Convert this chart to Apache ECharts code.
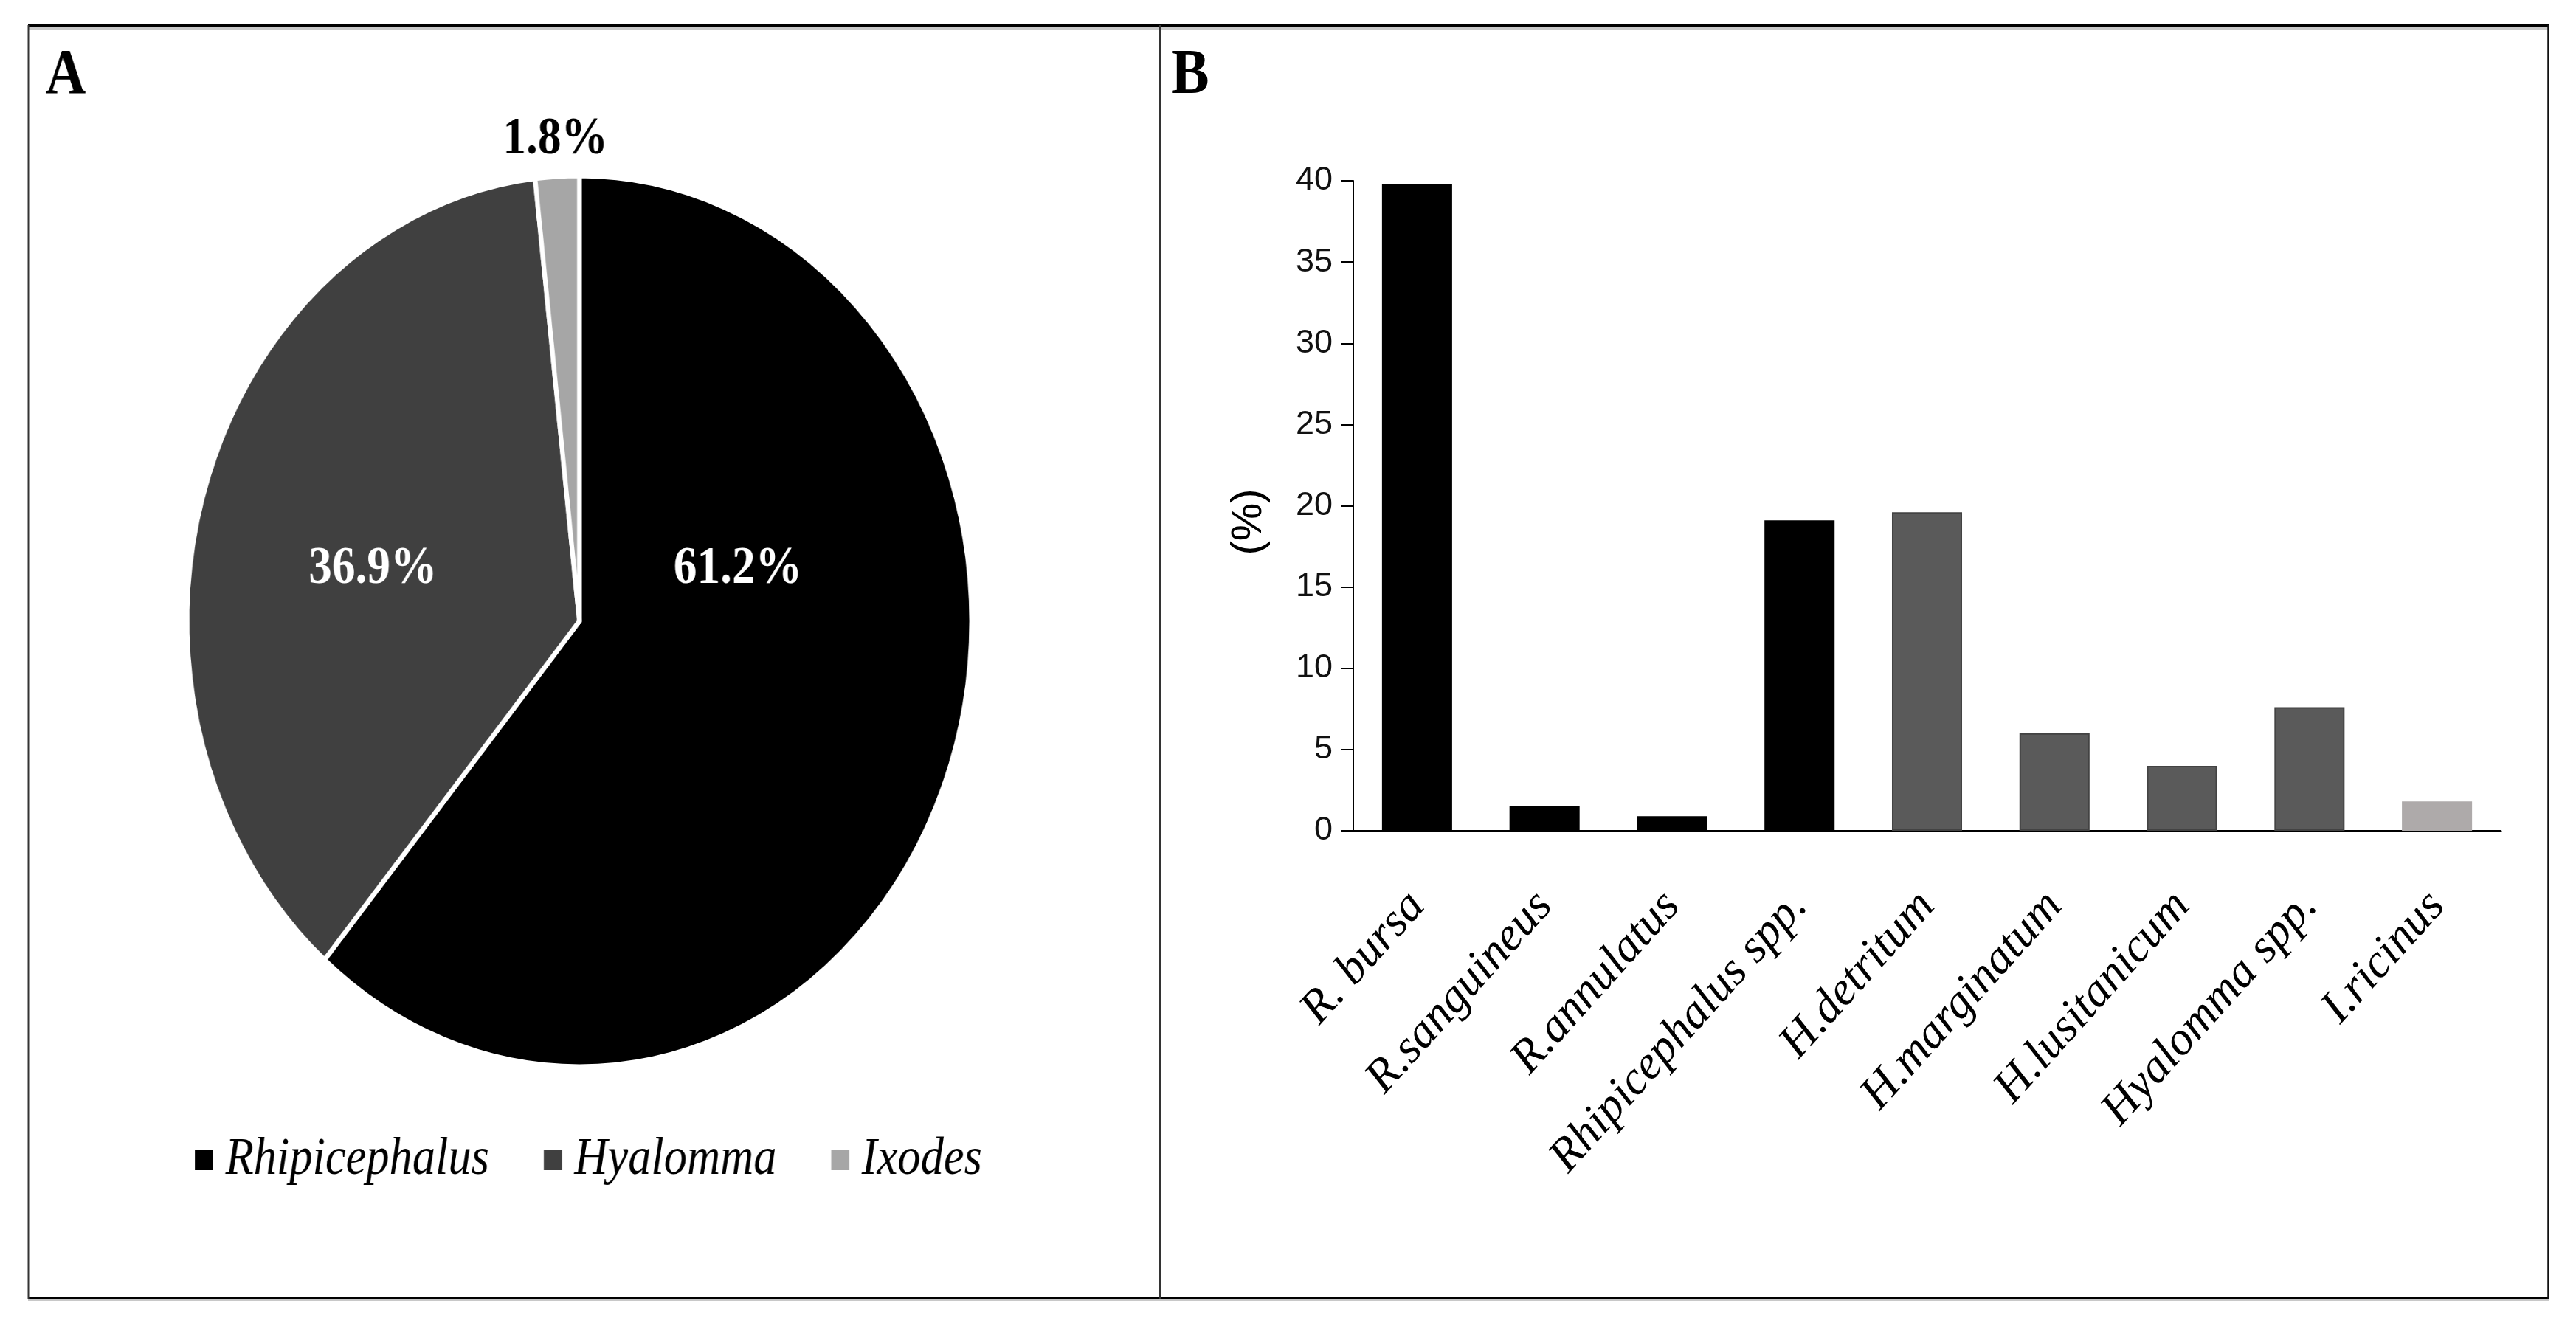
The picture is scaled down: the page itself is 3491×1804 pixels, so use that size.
<!DOCTYPE html>
<html>
<head>
<meta charset="utf-8">
<script src="https://cdn.jsdelivr.net/npm/echarts@6/dist/echarts.min.js"></script>
<style>
  html, body { margin: 0; padding: 0; background: #ffffff; }
  #chartB { position: absolute; left: 0; top: 0; width: 3491px; height: 1804px; }
  #chartA { position: absolute; left: 38px; top: 0; width: 1743px; height: 1804px;
            transform: scaleX(0.88); transform-origin: 0 0; }
</style>
</head>
<body>
<div id="chartB"></div>
<div id="chartA"></div>
<script>
// ---------- data ----------
const genera = ['Rhipicephalus', 'Hyalomma', 'Ixodes'];
const genusPercent = [61.2, 36.9, 1.8];

const categories = ['R. bursa', 'R.sanguineus', 'R.annulatus', 'Rhipicephalus spp.',
  'H.detritum', 'H.marginatum', 'H.lusitanicum', 'Hyalomma spp.', 'I.ricinus'];
const speciesValues = [39.8, 1.5, 0.9, 19.1, 19.6, 6.0, 4.0, 7.6, 1.8];
const speciesGenus = [0, 0, 0, 0, 1, 1, 1, 1, 2];

const yMin = 0, yMax = 40, yStep = 5;

// ---------- styles ----------
const pieColors = ['#000000', '#404040', '#a6a6a6'];
const barColors = ['#000000', '#5a5a5a', '#aeaaaa'];
const barBorders = ['#000000', '#434343', '#aeaaaa'];
const pieLabelColors = ['#ffffff', '#ffffff', '#000000'];

// ---------- panel B (bar chart + frame) ----------
const chartB = echarts.init(document.getElementById('chartB'), null, { renderer: 'canvas' });
chartB.setOption({
  animation: false,
  backgroundColor: '#ffffff',
  grid: { left: 1834, right: 102, top: 245, bottom: 678, containLabel: false },
  xAxis: {
    type: 'category',
    data: categories,
    axisLine: { show: true, lineStyle: { color: '#000', width: 3 } },
    axisTick: { show: false },
    axisLabel: {
      interval: 0, rotate: 48, margin: 92,
      fontFamily: 'Liberation Serif', fontStyle: 'italic', fontSize: 64, color: '#000'
    }
  },
  yAxis: {
    type: 'value', min: yMin, max: yMax, interval: yStep,
    name: '(%)', nameLocation: 'middle', nameGap: 112, nameRotate: 90,
    nameTextStyle: { fontFamily: 'Liberation Sans', fontSize: 58, color: '#000', padding: [0, 44, 0, 0] },
    axisLine: { show: true, lineStyle: { color: '#000', width: 2 } },
    axisTick: { show: true, inside: false, length: 17, lineStyle: { color: '#000', width: 2 } },
    axisLabel: { margin: 28, fontFamily: 'Liberation Sans', fontSize: 45, color: '#111' },
    splitLine: { show: false }
  },
  series: [{
    type: 'bar',
    barWidth: '55%',
    data: speciesValues.map((v, i) => ({
      value: v,
      itemStyle: {
        color: barColors[speciesGenus[i]],
        borderColor: barBorders[speciesGenus[i]],
        borderWidth: speciesGenus[i] === 1 ? 2 : 0
      }
    }))
  }],
  graphic: [
    { type: 'line', shape: { x1: 38, y1: 38, x2: 3455, y2: 38 }, style: { stroke: '#c8c8c8', lineWidth: 4 } },
    { type: 'line', shape: { x1: 38, y1: 34.5, x2: 3455, y2: 34.5 }, style: { stroke: '#000', lineWidth: 3 } },
    { type: 'line', shape: { x1: 38, y1: 1762.5, x2: 3455, y2: 1762.5 }, style: { stroke: '#c8c8c8', lineWidth: 3 } },
    { type: 'line', shape: { x1: 38, y1: 1759.5, x2: 3455, y2: 1759.5 }, style: { stroke: '#000', lineWidth: 3 } },
    { type: 'line', shape: { x1: 38.5, y1: 34, x2: 38.5, y2: 1760 }, style: { stroke: '#333', lineWidth: 2 } },
    { type: 'line', shape: { x1: 1572, y1: 34, x2: 1572, y2: 1760 }, style: { stroke: '#333', lineWidth: 2 } },
    { type: 'line', shape: { x1: 3453.5, y1: 34, x2: 3453.5, y2: 1760 }, style: { stroke: '#111', lineWidth: 2.5 } },
    { type: 'text', x: 1587, y: 104, scaleX: 0.9,
      style: { text: 'B', font: 'bold 86px "Liberation Serif"', fill: '#000', align: 'left', verticalAlign: 'middle' } }
  ]
});

// ---------- panel A (pie, horizontally compressed like the reference) ----------
const pieCx = 849, pieCy = 842, pieR = 604;
const labelOffsets = [[244, -71], [-318, -71], [-37, -653]];

const chartA = echarts.init(document.getElementById('chartA'), null, { renderer: 'canvas' });
chartA.setOption({
  animation: false,
  backgroundColor: 'transparent',
  legend: {
    left: 252, top: 1532,
    itemWidth: 28, itemHeight: 27, itemGap: 84,
    icon: 'rect',
    itemStyle: { borderWidth: 0 },
    textStyle: { fontFamily: 'Liberation Serif', fontStyle: 'italic', fontSize: 71, color: '#000',
                 padding: [0, 0, 0, 14] },
    data: genera
  },
  graphic: [
    { type: 'text', x: 27, y: 104,
      style: { text: 'A', font: 'bold 86px "Liberation Serif"', fill: '#000', align: 'left', verticalAlign: 'middle' } }
  ],
  series: [{
    type: 'pie',
    center: [pieCx, pieCy],
    radius: pieR,
    startAngle: 90,
    clockwise: true,
    avoidLabelOverlap: false,
    itemStyle: { borderColor: '#ffffff', borderWidth: 7 },
    label: {
      show: true, position: 'inside', formatter: '{c}%',
      fontFamily: 'Liberation Serif', fontWeight: 'bold', fontSize: 72
    },
    labelLine: { show: false },
    labelLayout: function (params) {
      const o = labelOffsets[params.dataIndex];
      return { x: pieCx + o[0], y: pieCy + o[1], align: 'center', verticalAlign: 'middle' };
    },
    emphasis: { disabled: true },
    data: genera.map((g, i) => ({
      name: g,
      value: genusPercent[i],
      itemStyle: { color: pieColors[i] },
      label: { color: pieLabelColors[i] }
    }))
  }]
});
</script>
</body>
</html>
